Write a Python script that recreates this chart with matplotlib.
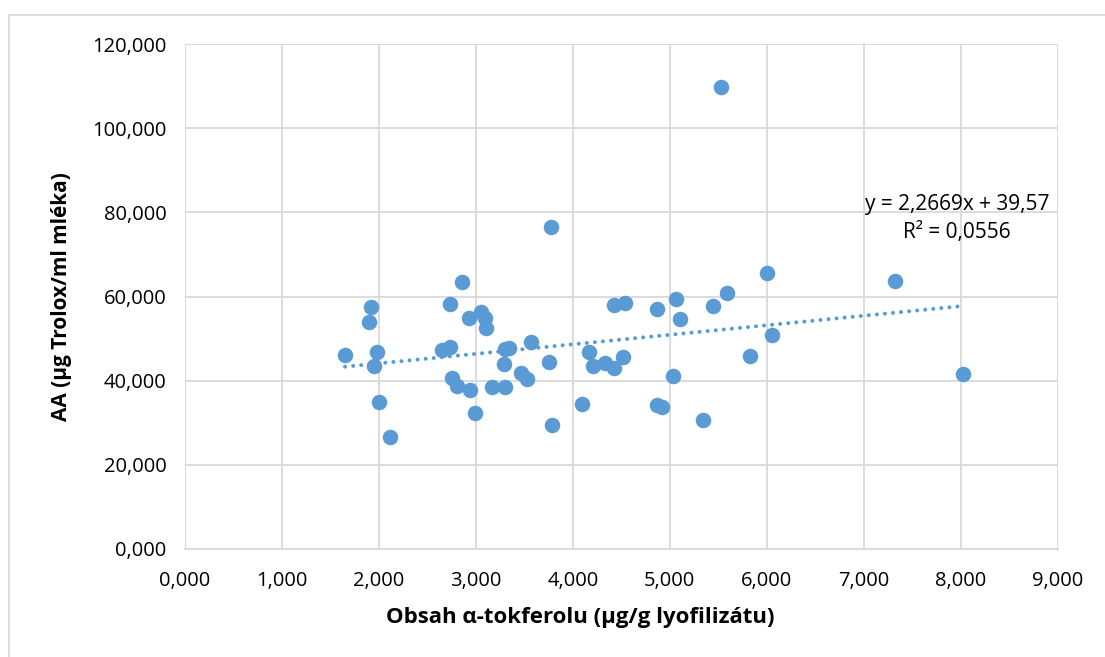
import matplotlib
matplotlib.use('Agg')
import numpy as np
import matplotlib.pyplot as plt
from matplotlib.ticker import FuncFormatter
from matplotlib.patches import Rectangle

plt.rcParams['font.family'] = ['Open Sans', 'DejaVu Sans']

# alpha-tocopherol content (ug/g) vs antioxidant activity (ug Trolox/ml)
tokoferol = [1.654, 1.92, 1.90, 1.98, 1.95, 2.00, 2.12, 2.86, 2.74, 2.93,
             3.05, 3.10, 3.11, 2.65, 2.74, 2.76, 2.81, 2.94, 2.99, 3.17,
             3.30, 3.30, 3.34, 3.29, 3.57, 3.76, 3.47, 3.53, 3.79, 3.78,
             4.10, 4.17, 4.21, 4.33, 4.43, 4.52, 4.42, 4.54, 4.87, 4.87,
             4.92, 5.03, 5.06, 5.10, 5.34, 5.44, 5.59, 5.83, 6.00, 6.05,
             5.53, 7.32, 8.02]
aa = [46.1, 57.6, 53.9, 46.9, 43.5, 34.9, 26.7, 63.4, 58.1, 54.9,
      56.2, 54.8, 52.6, 47.3, 48.1, 40.7, 38.8, 37.8, 32.2, 38.4,
      38.6, 47.5, 47.8, 43.9, 49.3, 44.4, 41.9, 40.3, 29.4, 76.5,
      34.4, 46.7, 43.5, 44.1, 43.1, 45.6, 57.9, 58.5, 57.0, 34.2,
      33.7, 41.1, 59.3, 54.6, 30.6, 57.7, 60.9, 45.9, 65.7, 50.8,
      109.8, 63.8, 41.5]

# trendline as reported in the chart
slope = 2.2669
intercept = 39.57
r2 = 0.0556

color = '#5B9BD5'

fig = plt.figure(figsize=(11.05, 6.57), dpi=100)
ax = fig.add_axes([0.167, 0.1644, 0.7905, 0.7686])

ax.scatter(tokoferol, aa, s=125, color=color, zorder=3, linewidths=0)

xt = np.array([min(tokoferol), max(tokoferol)])
ax.plot(xt, slope * xt + intercept, linestyle=(0, (0.01, 2.0)), color=color,
        linewidth=2.9, zorder=2, dash_capstyle='round')

ax.set_xlim(0, 9)
ax.set_ylim(0, 120)
ax.set_xticks(np.arange(0, 10, 1))
ax.set_yticks(np.arange(0, 121, 20))
fmt = FuncFormatter(lambda v, p: ('%.3f' % v).replace('.', ','))
ax.xaxis.set_major_formatter(fmt)
ax.yaxis.set_major_formatter(fmt)
ax.grid(True, color='#d9d9d9', linewidth=1.3)
ax.set_axisbelow(True)
for s in ['top', 'right', 'left']:
    ax.spines[s].set_visible(False)
ax.spines['bottom'].set_color('#d9d9d9')
ax.spines['bottom'].set_linewidth(1.3)
ax.tick_params(length=0, labelsize=14.5, colors='#000000')
ax.tick_params(axis='x', pad=16)
ax.tick_params(axis='y', pad=13)

ax.set_xlabel('Obsah α-tokferolu (µg/g lyofilizátu)', fontsize=16,
              fontweight='bold')
ax.set_ylabel('AA (µg Trolox/ml mléka)', fontsize=15, fontweight='bold')
ax.xaxis.label.set_va('center')
ax.yaxis.label.set_va('center')
ax.xaxis.set_label_coords(0.4528, -0.1347)
ax.yaxis.set_label_coords(-0.1414, 0.5)

ax.text(7.96, 78.5, 'y = 2,2669x + 39,57\nR² = %s' % str(r2).replace('.', ','),
        ha='center', va='center', fontsize=15, linespacing=1.4)

fig.patches.append(Rectangle((9 / 1105, -0.1), 1.2, 1 - 15 / 657 + 0.1,
                             transform=fig.transFigure, fill=False,
                             edgecolor='#d9d9d9', linewidth=1.3))

plt.savefig('out.png', dpi=100)
